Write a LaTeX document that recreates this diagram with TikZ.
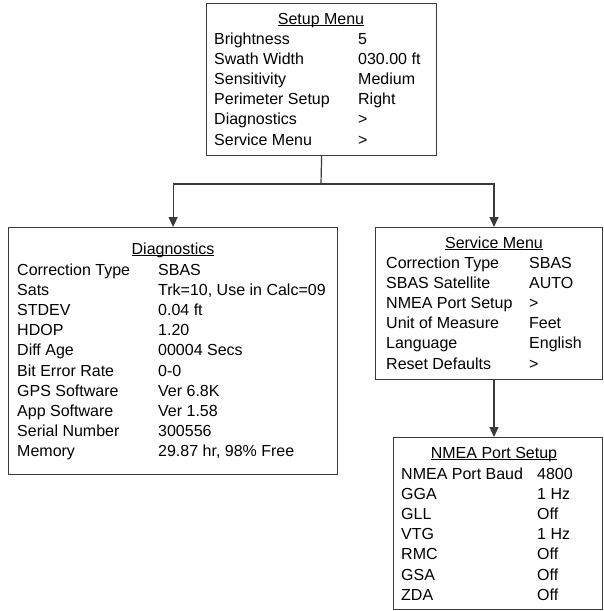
\documentclass[tikz,border=0pt]{standalone}
\usepackage{fontspec}
\setmainfont{Liberation Sans}
\usepackage{array}
\usetikzlibrary{arrows.meta}
\definecolor{menuline}{HTML}{3A3A3A}
\newcommand{\menufont}{\fontsize{16}{20.2}\selectfont}
\newcommand{\menutitle}[1]{\underline{\smash{#1}}}

\begin{document}
\begin{tikzpicture}[x=1pt, y=-1pt,
    menu/.style={rectangle, draw=menuline, line width=1.2pt, anchor=north west, inner sep=0pt},
    heading/.style={anchor=base, inner sep=0pt, font=\menufont},
    entries/.style={anchor=base west, inner sep=0pt, font=\menufont, align=left},
    link/.style={-{Triangle[length=10pt, width=9pt]}, line width=1.2pt, color=menuline}
]
\useasboundingbox (0,0) rectangle (604,611);

% boxes
\node[menu, minimum width=230pt, minimum height=152pt] (setup) at (206,3) {};
\node[menu, minimum width=329pt, minimum height=247pt] (diag) at (8,227) {};
\node[menu, minimum width=227pt, minimum height=152pt] (service) at (375,227) {};
\node[menu, minimum width=209pt, minimum height=172pt] (nmea) at (393,437) {};

% Setup Menu
\node[heading] (setuptitle) at (321,24) {\menutitle{Setup Menu}};
\node[entries] (setuplist) at (214,44) {\begin{tabular}[t]{@{}p{144pt}@{}l@{}}
Brightness & 5\\
Swath Width & 030.00 ft\\
Sensitivity & Medium\\
Perimeter Setup & Right\\
Diagnostics & >\\
Service Menu & >
\end{tabular}};

% Diagnostics
\node[heading] (diagtitle) at (173,254) {\menutitle{Diagnostics}};
\node[entries] (diaglist) at (17,275) {\begin{tabular}[t]{@{}p{141pt}@{}l@{}}
Correction Type & SBAS\\
Sats & Trk=10, Use in Calc=09\\
STDEV & 0.04 ft\\
HDOP & 1.20\\
Diff Age & 00004 Secs\\
Bit Error Rate & 0-0\\
GPS Software & Ver 6.8K\\
App Software & Ver 1.58\\
Serial Number & 300556\\
Memory & 29.87 hr, 98\% Free
\end{tabular}};

% Service Menu
\node[heading] (servicetitle) at (494,248) {\menutitle{Service Menu}};
\node[entries] (servicelist) at (386,268) {\begin{tabular}[t]{@{}p{143pt}@{}l@{}}
Correction Type & SBAS\\
SBAS Satellite & AUTO\\
NMEA Port Setup & >\\
Unit of Measure & Feet\\
Language & English\\
Reset Defaults & >
\end{tabular}};

% NMEA Port Setup
\node[heading] (nmeatitle) at (494,458) {\menutitle{NMEA Port Setup}};
\node[entries] (nmealist) at (401,479) {\begin{tabular}[t]{@{}p{136pt}@{}l@{}}
NMEA Port Baud & 4800\\
GGA & 1 Hz\\
GLL & Off\\
VTG & 1 Hz\\
RMC & Off\\
GSA & Off\\
ZDA & Off
\end{tabular}};

% connectors
\coordinate (split) at (321,184);
\draw[menuline, line width=1.2pt] (setup.south) -- (split);
\draw[link] (split) -| (diag.north);
\draw[link] (split) -| (servicetitle |- service.north);
\draw[link] (servicetitle |- service.south) -- (servicetitle |- nmea.north);
\end{tikzpicture}
\end{document}
